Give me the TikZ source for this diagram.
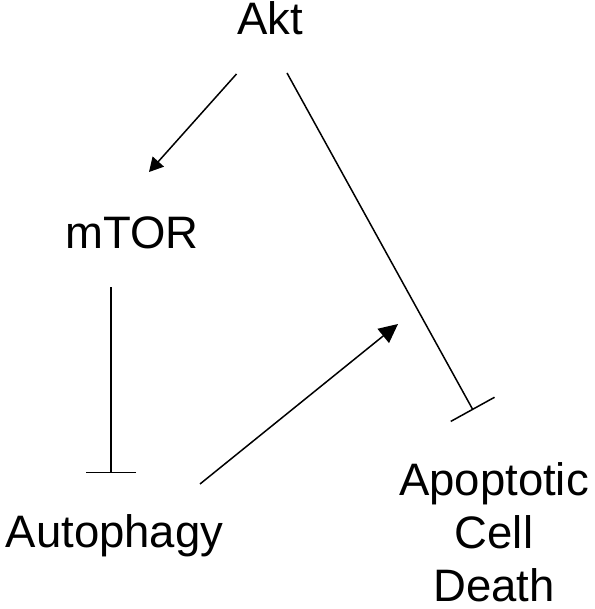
\documentclass[tikz,border=0pt]{standalone}
\usepackage{fontspec}
\setmainfont{Liberation Sans}
\usetikzlibrary{arrows.meta}

\tikzset{
  gene/.style={inner sep=0pt, font=\fontsize{45.5}{53}\selectfont},
  link/.style={line width=1.5pt},
  activates/.style={link, -{Triangle[length=14pt,width=15pt]}},
  promotes/.style={link, -{Triangle[length=19pt,width=18pt]}},
  inhibits/.style={link, -{Bar[width=50pt,line width=1.5pt]}}
}

\begin{document}
\begin{tikzpicture}[x=1pt,y=-1pt]
        \useasboundingbox (0,0) rectangle (594,609);
        % Define nodes
        \node[gene, anchor=base](akt) at (270.5,35){Akt}; %
        \node[gene, anchor=base](mtor) at (132,248){mTOR}; %
        \node[gene, anchor=base](autophagy) at (114.5,547){Autophagy}; %
        \node[gene, anchor=north, align=center](death) at (494,462){Apoptotic\\Cell\\Death}; %
        \coordinate (hit) at (398,324);
        % Connections
        \draw[activates] ([shift={(-34,39)}]akt.base) -- ([shift={(17,-76)}]mtor.base);
        \draw[inhibits] ([shift={(16.5,38)}]akt.base) -- ([shift={(-21,-52)}]death.north);
        \draw[inhibits] ([shift={(-21,39)}]mtor.base) -- ([shift={(-3.5,-74)}]autophagy.base);
        \draw[promotes] ([shift={(85.5,-63)}]autophagy.base) -- (hit);
    \end{tikzpicture}
\end{document}
